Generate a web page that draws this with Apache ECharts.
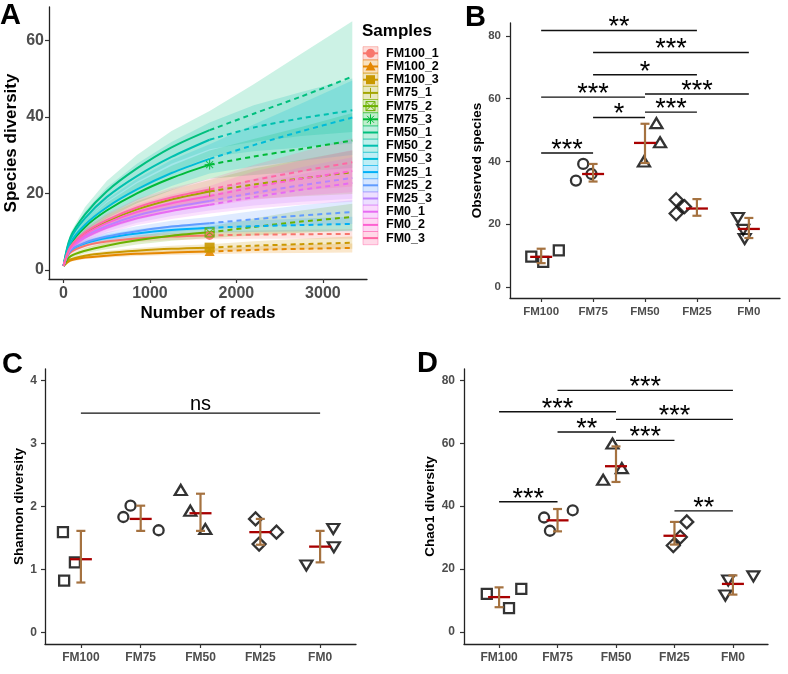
<!DOCTYPE html>
<html><head><meta charset="utf-8">
<script src="https://cdn.jsdelivr.net/npm/echarts@6/dist/echarts.min.js"></script>
<style>html,body{margin:0;padding:0;background:#fff}#c{width:788px;height:674px}</style>
</head><body><div id="c"></div>
<script>
// ---------- DATA ----------
const categories = ['FM100', 'FM75', 'FM50', 'FM25', 'FM0'];

// Panel A: rarefaction / extrapolation curves
const sampleNames = ['FM100_1','FM100_2','FM100_3','FM75_1','FM75_2','FM75_3','FM50_1','FM50_2','FM50_3','FM25_1','FM25_2','FM25_3','FM0_1','FM0_2','FM0_3'];
const sampleColors = ['#F8766D','#E58700','#C99800','#A3A500','#6BB100','#00BA38','#00BF7D','#00C0AF','#00BCD8','#00B0F6','#619CFF','#B983FF','#E76BF3','#FD61D1','#FF67A4'];
const readsGrid = [1, 80, 250, 500, 850, 1250, 1690, 2200, 2750, 3340];
const observedIndex = 6;
const readsTicks = [0, 1000, 2000, 3000];
const diversityTicks = [0, 20, 40, 60];
const sampleCurves = [
  [1, 4.5, 6.3, 7.4, 8.2, 8.7, 9.0, 9.2, 9.3, 9.4],
  [1, 2.4, 3.2, 3.7, 4.2, 4.5, 4.8, 5.2, 5.5, 5.7],
  [1, 2.7, 3.7, 4.4, 5.0, 5.5, 5.8, 6.3, 6.7, 7.1],
  [1, 5.8, 9.4, 12.6, 15.8, 18.4, 20.5, 22.3, 23.9, 25.5],
  [1, 3.5, 5.0, 6.3, 7.7, 8.9, 9.8, 11.2, 12.6, 13.8],
  [1, 6.6, 11.2, 15.5, 20.0, 24.0, 27.5, 29.6, 31.6, 33.8],
  [1, 8.5, 14.5, 20.5, 26.5, 32.0, 36.5, 40.8, 45.3, 50.5],
  [1, 8.0, 13.5, 19.0, 24.5, 29.5, 34.0, 37.2, 39.6, 41.7],
  [1, 7.0, 11.8, 16.3, 21.0, 25.3, 29.0, 32.6, 36.2, 39.8],
  [1, 5.0, 6.9, 8.3, 9.5, 10.4, 11.0, 11.4, 11.7, 12.0],
  [1, 5.0, 7.1, 8.7, 10.1, 11.3, 12.2, 13.2, 14.2, 15.1],
  [1, 5.5, 8.7, 11.5, 14.2, 16.3, 18.0, 20.1, 22.1, 24.0],
  [1, 5.4, 8.4, 11.0, 13.5, 15.4, 17.0, 19.0, 20.9, 22.7],
  [1, 5.8, 9.2, 12.2, 15.1, 17.4, 19.3, 21.6, 23.8, 25.8],
  [1, 6.0, 9.8, 13.0, 16.3, 18.9, 21.0, 23.4, 25.8, 28.1]
];
const sampleLower = [
  [1, 4.0, 5.6, 6.6, 7.3, 7.8, 8.0, 8.1, 8.1, 8.1],
  [1, 2.1, 2.8, 3.2, 3.6, 3.9, 4.1, 4.3, 4.4, 4.5],
  [1, 2.4, 3.2, 3.8, 4.3, 4.7, 4.9, 5.1, 5.3, 5.5],
  [1, 5.0, 8.1, 10.9, 13.7, 15.9, 17.5, 18.5, 19.2, 19.8],
  [1, 3.0, 4.3, 5.4, 6.6, 7.6, 8.3, 9.0, 9.7, 10.3],
  [1, 5.7, 9.7, 13.5, 17.4, 20.8, 23.8, 24.8, 25.7, 26.6],
  [1, 7.4, 12.6, 17.8, 23.0, 27.7, 31.5, 33.5, 35.0, 36.0],
  [1, 7.0, 11.7, 16.5, 21.3, 25.6, 29.5, 31.0, 32.0, 33.0],
  [1, 6.1, 10.2, 14.2, 18.2, 21.9, 25.2, 27.0, 28.5, 30.0],
  [1, 4.4, 6.1, 7.3, 8.4, 9.2, 9.7, 9.9, 10.0, 10.1],
  [1, 4.4, 6.2, 7.6, 8.8, 9.8, 10.6, 11.2, 11.7, 12.0],
  [1, 4.8, 7.6, 10.0, 12.3, 14.1, 15.5, 16.8, 17.8, 18.6],
  [1, 4.7, 7.3, 9.5, 11.7, 13.3, 14.7, 16.0, 17.0, 17.8],
  [1, 5.0, 8.0, 10.6, 13.1, 15.1, 16.7, 18.3, 19.4, 20.3],
  [1, 5.2, 8.5, 11.3, 14.1, 16.4, 18.2, 19.6, 20.8, 21.8]
];
const sampleUpper = [
  [1, 5.0, 7.0, 8.2, 9.1, 9.6, 10.0, 10.3, 10.5, 10.7],
  [1, 2.7, 3.6, 4.2, 4.7, 5.1, 5.5, 6.1, 6.6, 6.9],
  [1, 3.0, 4.2, 5.0, 5.7, 6.3, 6.7, 7.5, 8.1, 8.7],
  [1, 6.6, 10.7, 14.3, 17.9, 20.9, 23.5, 26.5, 28.8, 31.2],
  [1, 4.0, 5.7, 7.2, 8.8, 10.2, 11.3, 13.4, 15.5, 17.3],
  [1, 7.5, 12.7, 17.5, 22.6, 27.2, 31.2, 34.2, 37.3, 41.0],
  [1, 9.6, 16.4, 23.2, 30.0, 36.3, 41.5, 48.5, 56.5, 65.0],
  [1, 9.0, 15.3, 21.5, 27.7, 33.4, 38.5, 43.0, 46.5, 50.0],
  [1, 7.9, 13.4, 18.4, 23.8, 28.7, 32.8, 38.0, 43.5, 49.5],
  [1, 5.6, 7.7, 9.3, 10.6, 11.6, 12.3, 12.9, 13.4, 13.9],
  [1, 5.6, 8.0, 9.8, 11.4, 12.8, 13.8, 15.4, 16.9, 18.2],
  [1, 6.2, 9.8, 13.0, 16.1, 18.5, 20.5, 23.8, 26.8, 29.4],
  [1, 6.1, 9.5, 12.5, 15.3, 17.5, 19.3, 22.4, 25.0, 27.6],
  [1, 6.6, 10.4, 13.8, 17.1, 19.7, 21.9, 25.7, 28.6, 31.3],
  [1, 6.8, 11.1, 14.7, 18.5, 21.4, 23.8, 27.4, 30.8, 34.4]
];

// Panel B: observed species
const observedTicks = [0, 20, 40, 60, 80];
const observedJitter = [[-0.19, 0.04, 0.34], [-0.33, -0.19, -0.03], [0.22, 0.29, -0.02], [-0.40, -0.24, -0.40], [-0.21, -0.11, -0.08]];
const observedValues = [[9.7, 8.0, 11.7], [33.9, 39.2, 36.0], [52.2, 46.1, 40.0], [27.8, 25.6, 23.4], [22.0, 18.2, 15.3]];
const observedMean = [9.6, 36.0, 45.9, 25.0, 18.5];
const observedLow = [7.6, 33.6, 39.5, 22.7, 15.6];
const observedHigh = [12.2, 39.2, 52.0, 28.0, 22.0];
const observedSigFrom = [0, 1, 1, 0, 2, 1, 2, 0];
const observedSigTo = [3, 4, 3, 2, 4, 2, 3, 1];
const observedSigY = [81.7, 74.7, 67.6, 60.5, 61.5, 54.0, 55.7, 42.7];
const observedSigLabel = ['**', '***', '*', '***', '***', '*', '***', '***'];

// Panel C: Shannon diversity
const shannonTicks = [0, 1, 2, 3, 4];
const shannonJitter = [[-0.30, -0.10, -0.28], [-0.29, -0.17, 0.30], [-0.33, -0.17, 0.08], [-0.08, -0.02, 0.27], [-0.23, 0.22, 0.23]];
const shannonValues = [[1.59, 1.11, 0.82], [1.83, 2.01, 1.62], [2.26, 1.93, 1.64], [1.80, 1.40, 1.59], [1.06, 1.64, 1.35]];
const shannonMean = [1.16, 1.80, 1.89, 1.59, 1.36];
const shannonLow = [0.79, 1.61, 1.61, 1.39, 1.11];
const shannonHigh = [1.61, 2.01, 2.20, 1.80, 1.61];
const shannonSigFrom = [0];
const shannonSigTo = [4];
const shannonSigY = [3.48];
const shannonSigLabel = ['ns'];

// Panel D: Chao1 diversity
const chaoTicks = [0, 20, 40, 60, 80];
const chaoJitter = [[-0.21, 0.17, 0.38], [-0.23, -0.13, 0.26], [-0.22, -0.06, 0.10], [-0.02, 0.10, 0.21], [-0.13, -0.08, 0.35]];
const chaoValues = [[12.1, 7.6, 13.7], [36.4, 32.2, 38.7], [48.4, 59.9, 52.1], [27.5, 30.2, 35.0], [11.6, 16.4, 17.7]];
const chaoMean = [11.1, 35.5, 52.7, 30.6, 15.3];
const chaoLow = [7.9, 32.0, 47.7, 27.8, 11.9];
const chaoHigh = [14.2, 39.1, 59.0, 35.0, 18.0];
const chaoSigFrom = [1, 0, 2, 1, 2, 0, 3];
const chaoSigTo = [4, 2, 4, 2, 3, 1, 4];
const chaoSigY = [76.8, 70.0, 67.6, 63.6, 60.9, 41.4, 38.5];
const chaoSigLabel = ['***', '***', '***', '**', '***', '***', '**'];

// ---------- STYLE / BUILD ----------
const FONT = "'Liberation Sans', Arial, Helvetica, sans-serif";
const RED = '#A80000', BROWN = '#A57240';
function rgba(hex, a) { const n = parseInt(hex.slice(1), 16); return 'rgba(' + (n >> 16) + ',' + ((n >> 8) & 255) + ',' + (n & 255) + ',' + a + ')'; }

const groupSymbols = [
  { symbol: 'rect', size: 10, rotate: 0 },
  { symbol: 'circle', size: 10, rotate: 0 },
  { symbol: 'triangle', size: [12, 10], rotate: 0 },
  { symbol: 'diamond', size: [13, 13], rotate: 0 },
  { symbol: 'triangle', size: [12, 10], rotate: 180 }
];

function axisLineStyle() { return { show: true, onZero: false, lineStyle: { color: '#222', width: 1.3 } }; }

function valueX(gi, min, max, ticks, fmt, fs, margin, name, nameFs, nameGap) {
  return {
    gridIndex: gi, type: 'value', min: min, max: max,
    name: name || '', nameLocation: 'middle', nameGap: nameGap || 20,
    nameTextStyle: { fontSize: nameFs || 12, fontWeight: 'bold', color: '#000', fontFamily: FONT },
    axisLine: axisLineStyle(),
    axisTick: { show: true, customValues: ticks, length: 4, lineStyle: { color: '#333', width: 1.2 } },
    axisLabel: { customValues: ticks, formatter: fmt, fontSize: fs, fontWeight: 'bold', color: '#4D4D4D', fontFamily: FONT, margin: margin },
    splitLine: { show: false }
  };
}
function valueY(gi, min, max, ticks, fs, margin, name, nameFs, nameGap) {
  return {
    gridIndex: gi, type: 'value', min: min, max: max,
    name: name, nameLocation: 'middle', nameGap: nameGap,
    nameTextStyle: { fontSize: nameFs, fontWeight: 'bold', color: '#000', fontFamily: FONT },
    axisLine: axisLineStyle(),
    axisTick: { show: true, customValues: ticks, length: 4, lineStyle: { color: '#333', width: 1.2 } },
    axisLabel: { customValues: ticks, formatter: function (v) { return String(v); }, fontSize: fs, fontWeight: 'bold', color: '#4D4D4D', fontFamily: FONT, margin: margin },
    splitLine: { show: false }
  };
}
const catFmt = function (v) { return categories[Math.round(v)]; };
const plainFmt = function (v) { return String(v); };

const series = [];

// ---- Panel A ribbons ----
series.push({
  type: 'custom', xAxisIndex: 0, yAxisIndex: 0, silent: true, z: 1,
  data: sampleNames.map(function (n, i) { return [readsGrid[0], sampleCurves[i][0], i]; }),
  encode: { x: 0, y: 1 },
  renderItem: function (params, api) {
    const i = params.dataIndex;
    const up = readsGrid.map(function (x, k) { return api.coord([x, sampleUpper[i][k]]); });
    const lo = readsGrid.map(function (x, k) { return api.coord([x, sampleLower[i][k]]); }).reverse();
    return { type: 'polygon', shape: { points: up.concat(lo) }, style: { fill: rgba(sampleColors[i], 0.2) } };
  }
});
// ---- Panel A lines ----
sampleNames.forEach(function (n, i) {
  const pts = readsGrid.map(function (x, k) { return [x, sampleCurves[i][k]]; });
  series.push({
    type: 'line', xAxisIndex: 0, yAxisIndex: 0, silent: true, z: 3, showSymbol: false, symbol: 'none',
    smooth: 0.3,
    data: pts.slice(0, observedIndex + 1),
    lineStyle: { color: sampleColors[i], width: 2 }
  });
  series.push({
    type: 'line', xAxisIndex: 0, yAxisIndex: 0, silent: true, z: 3, showSymbol: false, symbol: 'none',
    smooth: 0.3,
    data: pts.slice(observedIndex),
    lineStyle: { color: sampleColors[i], width: 2, type: [5, 4] }
  });
});
// observed-point markers for the first six samples
const markerDefs = [
  { symbol: 'circle', size: 9, fill: true },
  { symbol: 'triangle', size: [10, 9], fill: true },
  { symbol: 'rect', size: 10, fill: true },
  { symbol: 'path://M5,0 L5,10 M0,5 L10,5', size: 10, fill: false },
  { symbol: 'path://M0,0 L10,0 L10,10 L0,10 Z M0,0 L10,10 M10,0 L0,10', size: 9, fill: false },
  { symbol: 'path://M5,0 L5,10 M0,5 L10,5 M1.5,1.5 L8.5,8.5 M8.5,1.5 L1.5,8.5', size: 10, fill: false }
];
markerDefs.forEach(function (m, i) {
  series.push({
    type: 'scatter', xAxisIndex: 0, yAxisIndex: 0, silent: true, z: 4,
    symbol: m.symbol, symbolSize: m.size,
    data: [[readsGrid[observedIndex], sampleCurves[i][observedIndex]]],
    itemStyle: m.fill ? { color: sampleColors[i], opacity: 0.9 } : { color: 'rgba(0,0,0,0)', borderColor: sampleColors[i], borderWidth: 1.2 }
  });
});

// ---- Panels B, C, D ----
function addDotPanel(gi, jitter, values, mean, low, high, sFrom, sTo, sY, sLab, sigFont) {
  const pts = [];
  values.forEach(function (grp, c) {
    grp.forEach(function (v, k) {
      const g = groupSymbols[c];
      pts.push({ value: [c + jitter[c][k], v], symbol: g.symbol, symbolSize: g.size, symbolRotate: g.rotate });
    });
  });
  series.push({
    type: 'scatter', xAxisIndex: gi, yAxisIndex: gi, silent: true, z: 3, data: pts,
    itemStyle: { color: 'rgba(0,0,0,0)', borderColor: '#000', borderWidth: 2.3 }
  });
  series.push({
    type: 'custom', xAxisIndex: gi, yAxisIndex: gi, silent: true, z: 4,
    data: categories.map(function (c, i) { return [i, mean[i], low[i], high[i]]; }),
    encode: { x: 0, y: 1 },
    renderItem: function (params, api) {
      const x = api.value(0);
      const m = api.coord([x, api.value(1)]);
      const lo = api.coord([x, api.value(2)]);
      const hi = api.coord([x, api.value(3)]);
      const hw = 11, cw = 4.5;
      return {
        type: 'group', children: [
          { type: 'line', shape: { x1: m[0] - hw, y1: m[1], x2: m[0] + hw, y2: m[1] }, style: { stroke: RED, lineWidth: 2.3 } },
          { type: 'line', shape: { x1: lo[0], y1: lo[1], x2: hi[0], y2: hi[1] }, style: { stroke: BROWN, lineWidth: 2.2 } },
          { type: 'line', shape: { x1: hi[0] - cw, y1: hi[1], x2: hi[0] + cw, y2: hi[1] }, style: { stroke: BROWN, lineWidth: 2.2 } },
          { type: 'line', shape: { x1: lo[0] - cw, y1: lo[1], x2: lo[0] + cw, y2: lo[1] }, style: { stroke: BROWN, lineWidth: 2.2 } }
        ]
      };
    }
  });
  series.push({
    type: 'custom', xAxisIndex: gi, yAxisIndex: gi, silent: true, z: 5,
    data: sFrom.map(function (f, i) { return [f, sTo[i], sY[i]]; }),
    encode: { x: 0, y: 2 },
    renderItem: function (params, api) {
      const a = api.coord([api.value(0), api.value(2)]);
      const b = api.coord([api.value(1), api.value(2)]);
      const lab = sLab[params.dataIndex];
      const isStar = lab.indexOf('*') >= 0;
      return {
        type: 'group', children: [
          { type: 'line', shape: { x1: a[0], y1: a[1], x2: b[0], y2: b[1] }, style: { stroke: '#111', lineWidth: 1.4 } },
          { type: 'text', style: { x: (a[0] + b[0]) / 2, y: a[1] - (isStar ? 2.5 : 9), text: lab, font: sigFont, fill: '#000', align: 'center', verticalAlign: 'middle' } }
        ]
      };
    }
  });
}
addDotPanel(1, observedJitter, observedValues, observedMean, observedLow, observedHigh, observedSigFrom, observedSigTo, observedSigY, observedSigLabel, '27px ' + FONT);
addDotPanel(2, shannonJitter, shannonValues, shannonMean, shannonLow, shannonHigh, shannonSigFrom, shannonSigTo, shannonSigY, shannonSigLabel, '20px ' + FONT);
addDotPanel(3, chaoJitter, chaoValues, chaoMean, chaoLow, chaoHigh, chaoSigFrom, chaoSigTo, chaoSigY, chaoSigLabel, '27px ' + FONT);

// ---- Legend for panel A (graphic) ----
const graphics = [];
graphics.push({ type: 'text', x: 362, y: 23, style: { text: 'Samples', font: 'bold 17px ' + FONT, fill: '#000' } });
sampleNames.forEach(function (n, i) {
  const cy = 53.3 + i * 13.2, x0 = 363, w = 15, cx = x0 + w / 2, col = sampleColors[i];
  graphics.push({ type: 'rect', shape: { x: x0, y: cy - 6.6, width: w, height: 13.2 }, style: { fill: rgba(col, 0.25), stroke: rgba(col, 0.45), lineWidth: 1 } });
  graphics.push({ type: 'line', shape: { x1: x0, y1: cy, x2: x0 + w, y2: cy }, style: { stroke: col, lineWidth: 2 } });
  if (i === 0) graphics.push({ type: 'circle', shape: { cx: cx, cy: cy, r: 4.5 }, style: { fill: col } });
  if (i === 1) graphics.push({ type: 'polygon', shape: { points: [[cx, cy - 5], [cx + 5, cy + 4], [cx - 5, cy + 4]] }, style: { fill: col } });
  if (i === 2) graphics.push({ type: 'rect', shape: { x: cx - 4.5, y: cy - 4.5, width: 9, height: 9 }, style: { fill: col } });
  if (i === 3) graphics.push({ type: 'line', shape: { x1: cx, y1: cy - 5, x2: cx, y2: cy + 5 }, style: { stroke: col, lineWidth: 1 } });
  if (i === 4) {
    graphics.push({ type: 'rect', shape: { x: cx - 4.5, y: cy - 4.5, width: 9, height: 9 }, style: { fill: 'none', stroke: col, lineWidth: 1 } });
    graphics.push({ type: 'line', shape: { x1: cx - 4.5, y1: cy - 4.5, x2: cx + 4.5, y2: cy + 4.5 }, style: { stroke: col, lineWidth: 1 } });
    graphics.push({ type: 'line', shape: { x1: cx + 4.5, y1: cy - 4.5, x2: cx - 4.5, y2: cy + 4.5 }, style: { stroke: col, lineWidth: 1 } });
  }
  if (i === 5) {
    graphics.push({ type: 'line', shape: { x1: cx, y1: cy - 5, x2: cx, y2: cy + 5 }, style: { stroke: col, lineWidth: 1 } });
    graphics.push({ type: 'line', shape: { x1: cx - 3.5, y1: cy - 3.5, x2: cx + 3.5, y2: cy + 3.5 }, style: { stroke: col, lineWidth: 1 } });
    graphics.push({ type: 'line', shape: { x1: cx + 3.5, y1: cy - 3.5, x2: cx - 3.5, y2: cy + 3.5 }, style: { stroke: col, lineWidth: 1 } });
  }
  graphics.push({ type: 'text', x: 386, y: cy, style: { text: n, font: 'bold 12.5px ' + FONT, fill: '#000', verticalAlign: 'middle' } });
});
// panel letters
[['A', 0, 1], ['B', 465, 3], ['C', 2, 350], ['D', 417, 349]].forEach(function (p) {
  graphics.push({ type: 'text', x: p[1], y: p[2], style: { text: p[0], font: 'bold 29px ' + FONT, fill: '#000' } });
});

const option = {
  animation: false,
  backgroundColor: '#fff',
  grid: [
    { left: 49, top: 7, width: 318, height: 272 },
    { left: 510, top: 23, width: 270, height: 275 },
    { left: 45, top: 369, width: 311, height: 275 },
    { left: 464, top: 369, width: 304, height: 275 }
  ],
  xAxis: [
    valueX(0, -167, 3510, readsTicks, plainFmt, 16, 7, 'Number of reads', 17, 26),
    valueX(1, -0.6, 4.6, [0, 1, 2, 3, 4], catFmt, 11.5, 8),
    valueX(2, -0.6, 4.6, [0, 1, 2, 3, 4], catFmt, 12, 8),
    valueX(3, -0.6, 4.6, [0, 1, 2, 3, 4], catFmt, 12, 8)
  ],
  yAxis: [
    valueY(0, -2.4, 68.7, diversityTicks, 16, 5, 'Species diversity', 17, 29),
    valueY(1, -3.5, 84.1, observedTicks, 11.5, 9, 'Observed species', 13.5, 26),
    valueY(2, -0.186, 4.18, shannonTicks, 12, 8, 'Shannon diversity', 13.5, 18),
    valueY(3, -3.8, 83.6, chaoTicks, 12, 9, 'Chao1 diversity', 13.5, 25)
  ],
  series: series,
  graphic: { elements: graphics }
};
const chart = echarts.init(document.getElementById('c'), null, { renderer: 'canvas' });
chart.setOption(option);
</script></body></html>
